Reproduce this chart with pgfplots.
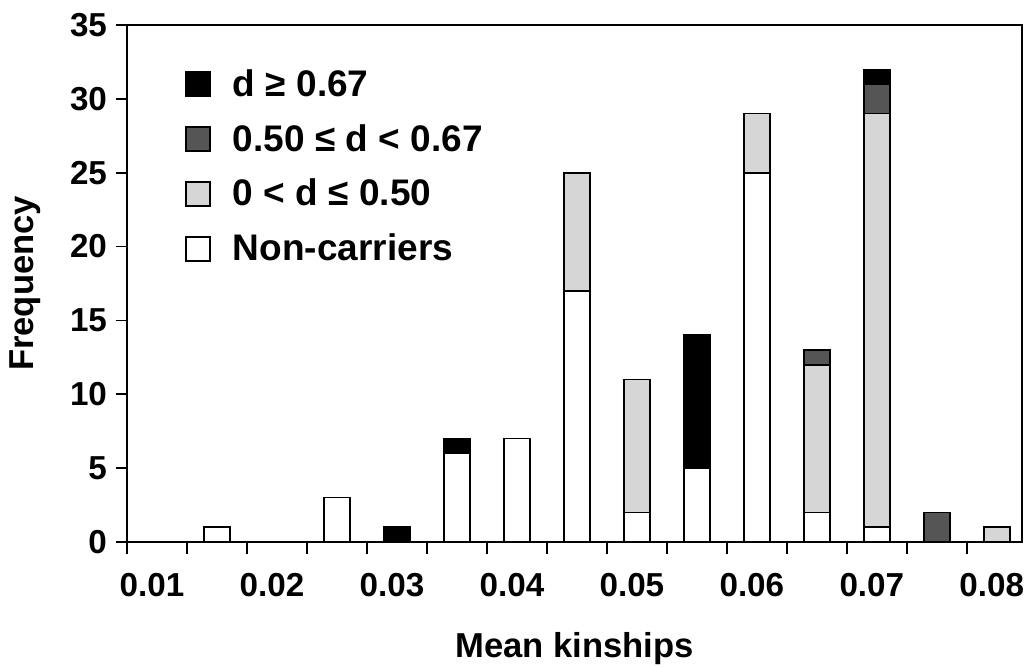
\documentclass[border=0pt]{standalone}
\usepackage{fontspec}
\setmainfont{Liberation Sans}
\usepackage{pgfplots}
\pgfplotsset{compat=1.18}
\definecolor{darkg}{HTML}{555555}
\definecolor{lightg}{HTML}{D6D6D6}
\pgfplotstableread{
x      white light dark black
0.010  0  0  0 0
0.015  1  0  0 0
0.020  0  0  0 0
0.025  3  0  0 0
0.030  0  0  0 1
0.035  6  0  0 1
0.040  7  0  0 0
0.045 17  8  0 0
0.050  2  9  0 0
0.055  5  0  0 9
0.060 25  4  0 0
0.065  2 10  1 0
0.070  1 28  2 1
0.075  0  0  2 0
0.080  0  1  0 0
}\datatable
\begin{document}
\begin{tikzpicture}
\begin{axis}[
  name=ax,
  scale only axis,
  width=447.5pt, height=258.5pt,
  xmin=0.0075, xmax=0.0821, ymin=0, ymax=35,
  ybar stacked, bar width=0.00217,
  scaled x ticks=false,
  axis line style={line width=0.8pt},
  xtick={0.01,0.02,0.03,0.04,0.05,0.06,0.07,0.08},
  xticklabels={0.01,0.02,0.03,0.04,0.05,0.06,0.07,0.08},
  minor xtick={0.0075,0.0125,0.0175,0.0225,0.0275,0.0325,0.0375,0.0425,0.0475,0.0525,0.0575,0.0625,0.0675,0.0725,0.0775},
  major x tick style={draw=none},
  minor x tick style={line width=0.8pt, black},
  minor tick length=6pt,
  ytick={0,5,10,15,20,25,30,35},
  y tick style={line width=0.8pt, black},
  major tick length=5.5pt,
  tick align=outside,
  xtick pos=bottom, ytick pos=left,
  /pgf/number format/assume math mode=true,
  ticklabel style={font=\fontsize{16.6}{20}\selectfont\bfseries},
  xticklabel style={anchor=north, yshift=-6.5pt, xshift=-2.5pt},
  yticklabel style={anchor=east, xshift=-1pt},
  xlabel={Mean kinships},
  ylabel={Frequency},
  label style={font=\fontsize{17.3}{20}\selectfont\bfseries},
  xlabel style={at={(axis description cs:0.5,0)}, anchor=center, yshift=-53.5pt},
  ylabel style={at={(axis description cs:0,0.5)}, anchor=center, yshift=51pt},
  reverse legend,
  legend cell align=left,
  legend style={at={(axis description cs:0,1)}, anchor=north west,
    xshift=26pt, yshift=-18pt, draw=none, fill=none,
    font=\fontsize{18.5}{22}\selectfont\bfseries,
    row sep=8.5pt,
    nodes={inner sep=2pt},
    /tikz/every odd column/.append style={column sep=9pt}},
  legend image code/.code={\draw[#1, line width=0.8pt] (0pt,-6pt) rectangle (12pt,6pt);},
]
\addplot[fill=white, draw=black, line width=0.8pt] table[x=x, y=white] {\datatable};
\addlegendentry{Non-carriers}
\addplot[fill=lightg, draw=black, line width=0.8pt] table[x=x, y=light] {\datatable};
\addlegendentry{0 < d ≤ 0.50}
\addplot[fill=darkg, draw=black, line width=0.8pt] table[x=x, y=dark] {\datatable};
\addlegendentry{0.50 ≤ d < 0.67}
\addplot[fill=black, draw=black, line width=0.8pt] table[x=x, y=black] {\datatable};
\addlegendentry{d ≥ 0.67}
\end{axis}
\pgfresetboundingbox
\path[use as bounding box] ([shift={(-63.5pt,-62.5pt)}]ax.south west) rectangle ([shift={(2pt,12.5pt)}]ax.north east);
\end{tikzpicture}
\end{document}
